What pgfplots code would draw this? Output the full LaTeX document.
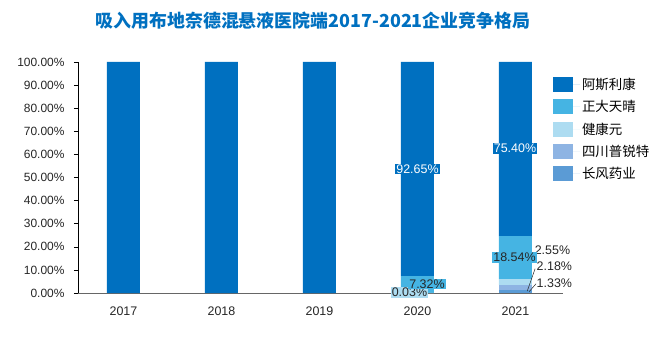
\documentclass[border=0pt]{standalone}
\usepackage{pgfplots}
\pgfplotsset{compat=1.18}
\usepackage{fontspec}
\setmainfont{Liberation Sans}
\newfontfamily\cjk{Noto Sans CJK SC}
\definecolor{cA}{HTML}{0070C0}
\definecolor{cB}{HTML}{45B4E3}
\definecolor{cC}{HTML}{ADDCF1}
\definecolor{cD}{HTML}{8EB4E3}
\definecolor{cE}{HTML}{5B9BD5}
\definecolor{ttl}{HTML}{0070C0}
\begin{document}
\begin{tikzpicture}
\useasboundingbox (0,0) rectangle (668bp,351bp);
\node[font=\cjk\bfseries\fontsize{18}{20}\selectfont, text=ttl] at (313bp,330bp) {吸入用布地奈德混悬液医院端2017-2021企业竞争格局};
\begin{axis}[
  at={(78bp,58bp)}, anchor=south west,
  scale only axis, width=485bp, height=231bp,
  xmin=-0.464, xmax=4.485, ymin=0, ymax=100,
  ybar stacked, bar width=33bp,
  axis lines*=left,
  x axis line style={draw=black!60, line width=1pt},
  y axis line style={draw=black, line width=0.6pt},
  xtick={0,1,2,3,4}, xticklabels={2017,2018,2019,2020,2021},
  major x tick style={draw=none},
  ytick={0,10,...,100},
  yticklabel={\pgfmathprintnumber[fixed,fixed zerofill,precision=2]{\tick}\%},
  /pgf/number format/assume math mode=true,
  tick align=outside, major tick length=4bp,
  ytick style={draw=black, line width=0.5pt},
  ticklabel style={font=\fontsize{12}{14}\selectfont, text=black!85},
  xticklabel style={yshift=-6bp, font=\fontsize{12.5}{14}\selectfont},
  yticklabel style={xshift=-6bp},
  legend style={at={(0.979,0.94)}, anchor=north west, draw=none, fill=none,
    font=\cjk\fontsize{13.5}{15}\selectfont, inner sep=0pt, row sep=5.5bp,
    /tikz/every even column/.append style={column sep=0pt}},
  legend cell align=left,
  reverse legend,
  legend image code/.code={\fill[#1] (0bp,-7.5bp) rectangle (20bp,7.5bp);\path (0bp,0) -- (27bp,0);},
  clip=false,
]
\addplot[fill=cE, draw=none] coordinates {(0,0) (1,0) (2,0) (3,0) (4,1.33)};
\addlegendentry{长风药业}
\addplot[fill=cD, draw=none] coordinates {(0,0) (1,0) (2,0) (3,0) (4,2.18)};
\addlegendentry{四川普锐特}
\addplot[fill=cC, draw=none] coordinates {(0,0) (1,0) (2,0) (3,0.03) (4,2.55)};
\addlegendentry{健康元}
\addplot[fill=cB, draw=none] coordinates {(0,0) (1,0) (2,0) (3,7.32) (4,18.54)};
\addlegendentry{正大天晴}
\addplot[fill=cA, draw=none] coordinates {(0,100) (1,100) (2,100) (3,92.65) (4,75.40)};
\addlegendentry{阿斯利康}
\coordinate (L1) at (axis cs:3,53.7);
\coordinate (L2) at (axis cs:2.918,0.2);
\coordinate (L3) at (axis cs:3.097,3.9);
\coordinate (L4) at (axis cs:3.995,62.5);
\coordinate (L5) at (axis cs:4.195,18.6);
\coordinate (L6) at (axis cs:3.99,15.4);
\coordinate (L7) at (axis cs:4.215,11.7);
\coordinate (L8) at (axis cs:4.215,4.3);
\coordinate (A1) at (axis cs:4.12,0.8);
\coordinate (A2) at (axis cs:4.2,10.5);
\coordinate (B1) at (axis cs:4.14,0.6);
\coordinate (B2) at (axis cs:4.21,4.0);
\end{axis}
\tikzset{lbl/.style={font=\fontsize{12.5}{14}\selectfont, inner sep=1bp}}
\node[lbl, fill=cA, text=white] at (L1) {92.65\%};
\node[lbl, fill=cC, text=black!85] at (L2) {0.03\%};
\node[lbl, fill=cB, text=black!85] at (L3) {7.32\%};
\node[lbl, fill=cA, text=white] at (L4) {75.40\%};
\node[lbl, text=black!85, anchor=west, inner sep=0pt] at (L5) {2.55\%};
\node[lbl, fill=cB, text=black!85] at (L6) {18.54\%};
\node[lbl, text=black!85, anchor=west, inner sep=0pt] at (L7) {2.18\%};
\node[lbl, text=black!85, anchor=west, inner sep=0pt] at (L8) {1.33\%};
\draw[black!85, line width=0.5pt] (A1) -- (A2);
\draw[black!85, line width=0.5pt] (B1) -- (B2);
\end{tikzpicture}
\end{document}
